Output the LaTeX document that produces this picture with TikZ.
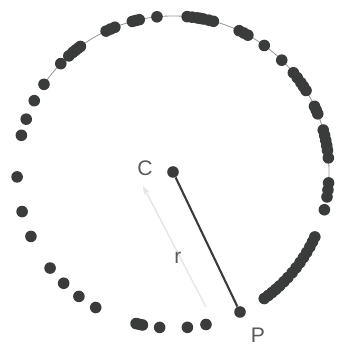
\documentclass[tikz,border=0pt]{standalone}
\usepackage{fontspec}
\setmainfont{Liberation Sans}
\usetikzlibrary{arrows.meta}
\definecolor{dotgray}{HTML}{3A3C3B}
\definecolor{labelgray}{HTML}{5A5A5A}
\begin{document}
\begin{tikzpicture}[x=0.25mm,y=0.25mm,
    dot/.style={circle,fill=dotgray,inner sep=0pt,minimum size=2.9mm},
    lbl/.style={text=labelgray,inner sep=1pt,font=\fontsize{15}{15}\selectfont}]
    \useasboundingbox (0,0) rectangle (338,347);
    % 圆心
    \coordinate (O) at (173,175);

    % 圆弧（细线）
    \draw[gray!80, line width=0.6pt] (O) ++(146:156) arc (146:-6:156);

    % 圆上的采样点
    \foreach \a in {136,131.9,130,128.8,127.5,126.4,115.4,113.6,111.9,105.1,
                    103.8,102.5,95.9,84.8,83,81.1,80,78.8,76.8,75,64.9,63,
                    61.3,54.2,45.8,39.5,37.2,34.9,33.2,31.5,24.9,23.4,21.9,
                    15.6,13.6,11.7,9.8,8,5.2,-4,-6.6,-9.2,-14,-24.6,-26.6,
                    -28.7,-31,-33.2,-35.5,-37.9,-40.2,-42.6,-44.7,-46.9,
                    -48.8,-50.6,-52.4,-54.2,-77.8,-84.7,-94.9,-101.3,-102.5,
                    -103.7,240.3,232.9,225.5,218,204.4,194.7,181.8,
                    166.4,160.2,152.8,145.8}
        \fill[dotgray] (O) ++(\a:156) circle (1.45mm);

    % 圆心 C 与点 P
    \node[dot] (C) at (O) {};
    \node[dot] (P) at (240,35) {};
    \draw[dotgray, line width=1.5pt] (C) -- (P);

    % 半径标注
    \coordinate (r1) at (143,161);
    \coordinate (r2) at (206,40);
    \draw[gray!20, line width=1pt, {Stealth[length=2.2mm]}-] (r1) -- (r2);
    \node[lbl] (rlab) at (178,89) {r};

    % 标签
    \node[lbl] (Clab) at (145,179) {C};
    \node[lbl] (Plab) at (258,12) {P};
\end{tikzpicture}
\end{document}
